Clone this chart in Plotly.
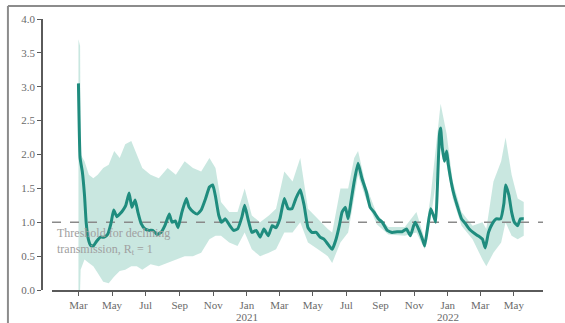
import plotly.graph_objects as go

# Estimated effective reproduction number (central estimate)
rt_dates = [
    "2020-03-01", "2020-03-04", "2020-03-08", "2020-03-12", "2020-03-15", "2020-03-19",
    "2020-03-23", "2020-03-28", "2020-04-03", "2020-04-10", "2020-04-17", "2020-04-23",
    "2020-04-29", "2020-05-04", "2020-05-10", "2020-05-15", "2020-05-21", "2020-05-26",
    "2020-06-01", "2020-06-06", "2020-06-12", "2020-06-17", "2020-06-23", "2020-06-30",
    "2020-07-07", "2020-07-14", "2020-07-22", "2020-07-29", "2020-08-05", "2020-08-13",
    "2020-08-18", "2020-08-24", "2020-08-29", "2020-09-05", "2020-09-13", "2020-09-18",
    "2020-09-26", "2020-10-03", "2020-10-10", "2020-10-18", "2020-10-25", "2020-10-31",
    "2020-11-05", "2020-11-11", "2020-11-16", "2020-11-23", "2020-12-01", "2020-12-08",
    "2020-12-15", "2020-12-23", "2020-12-28", "2021-01-03", "2021-01-10", "2021-01-18",
    "2021-01-25", "2021-02-01", "2021-02-09", "2021-02-16", "2021-02-23", "2021-03-02",
    "2021-03-10", "2021-03-17", "2021-03-24", "2021-03-31", "2021-04-08", "2021-04-15",
    "2021-04-22", "2021-04-29", "2021-05-07", "2021-05-14", "2021-05-21", "2021-05-28",
    "2021-06-05", "2021-06-12", "2021-06-18", "2021-06-23", "2021-06-29", "2021-07-04",
    "2021-07-09", "2021-07-15", "2021-07-22", "2021-07-29", "2021-08-06", "2021-08-13",
    "2021-08-20", "2021-08-28", "2021-09-04", "2021-09-13", "2021-09-22", "2021-10-01",
    "2021-10-10", "2021-10-18", "2021-10-25", "2021-10-31", "2021-11-03", "2021-11-10",
    "2021-11-16", "2021-11-20", "2021-11-25", "2021-12-01", "2021-12-06", "2021-12-10",
    "2021-12-13", "2021-12-17", "2021-12-19", "2021-12-22", "2021-12-26", "2021-12-30",
    "2022-01-02", "2022-01-06", "2022-01-11", "2022-01-18", "2022-01-26", "2022-02-02",
    "2022-02-09", "2022-02-16", "2022-02-25", "2022-03-05", "2022-03-10", "2022-03-16",
    "2022-03-23", "2022-03-30", "2022-04-07", "2022-04-13", "2022-04-16", "2022-04-22",
    "2022-04-27", "2022-05-02", "2022-05-08", "2022-05-13", "2022-05-19",
]
rt_values = [
    3.05, 1.95, 1.75, 1.40, 1.00, 0.75,
    0.66, 0.65, 0.72, 0.78, 0.78, 0.82,
    0.98, 1.18, 1.08, 1.12, 1.18, 1.25,
    1.43, 1.22, 1.33, 1.15, 0.98, 0.90,
    0.88, 0.88, 0.82, 0.85, 0.95, 1.12,
    1.00, 1.02, 0.92, 1.15, 1.35, 1.22,
    1.15, 1.12, 1.18, 1.35, 1.52, 1.55,
    1.38, 1.10, 1.00, 1.05, 0.95, 0.88,
    0.90, 1.08, 1.25, 1.05, 0.85, 0.88,
    0.78, 0.90, 0.80, 0.95, 0.92, 1.05,
    1.35, 1.20, 1.20, 1.35, 1.48, 1.25,
    0.92, 0.85, 0.85, 0.78, 0.75, 0.68,
    0.60, 0.75, 0.95, 1.15, 1.22, 1.05,
    1.30, 1.60, 1.87, 1.65, 1.45, 1.22,
    1.15, 1.05, 1.00, 0.88, 0.85, 0.86,
    0.86, 0.90, 0.80, 0.95, 1.00, 0.88,
    0.75, 0.65, 0.90, 1.20, 1.10, 1.00,
    1.50, 2.30, 2.39, 2.10, 1.90, 2.05,
    1.85, 1.65, 1.45, 1.25, 1.05, 0.98,
    0.90, 0.85, 0.80, 0.75, 0.62, 0.85,
    0.98, 1.05, 1.05, 1.28, 1.55, 1.40,
    1.15, 1.00, 0.95, 1.05, 1.05,
]

# Credible interval around the estimate
band_dates = [
    "2020-03-01", "2020-03-04", "2020-03-05", "2020-03-12", "2020-03-20", "2020-03-28",
    "2020-04-05", "2020-04-15", "2020-04-25", "2020-05-05", "2020-05-15", "2020-05-25",
    "2020-06-05", "2020-06-15", "2020-06-25", "2020-07-10", "2020-07-25", "2020-08-10",
    "2020-08-25", "2020-09-10", "2020-09-25", "2020-10-10", "2020-10-25", "2020-11-05",
    "2020-11-15", "2020-11-30", "2020-12-15", "2020-12-28", "2021-01-10", "2021-01-25",
    "2021-02-10", "2021-02-23", "2021-03-10", "2021-03-25", "2021-04-08", "2021-04-22",
    "2021-05-10", "2021-05-28", "2021-06-05", "2021-06-20", "2021-07-04", "2021-07-15",
    "2021-07-22", "2021-08-05", "2021-08-25", "2021-09-15", "2021-10-15", "2021-11-05",
    "2021-11-20", "2021-12-01", "2021-12-19", "2021-12-30", "2022-01-10", "2022-01-26",
    "2022-02-15", "2022-03-05", "2022-03-12", "2022-03-25", "2022-04-08", "2022-04-16",
    "2022-04-27", "2022-05-08", "2022-05-19",
]
band_lo = [
    0.00, 0.00, 0.30, 0.45, 0.40, 0.35,
    0.25, 0.12, 0.10, 0.20, 0.28, 0.30,
    0.35, 0.35, 0.30, 0.38, 0.35, 0.40,
    0.45, 0.50, 0.50, 0.55, 0.75, 0.80,
    0.80, 0.70, 0.65, 0.85, 0.60, 0.50,
    0.55, 0.60, 0.85, 0.85, 1.00, 0.70,
    0.60, 0.50, 0.40, 0.70, 0.85, 1.35,
    1.70, 1.35, 0.97, 0.82, 0.80, 0.85,
    0.60, 1.05, 2.10, 1.85, 1.35, 0.95,
    0.75, 0.45, 0.35, 0.55, 0.70, 1.00,
    0.80, 0.75, 0.80,
]
band_hi = [
    3.70, 3.60, 2.00, 1.90, 1.70, 1.65,
    1.70, 1.80, 1.85, 2.05, 1.95, 2.15,
    2.20, 2.00, 1.80, 1.70, 1.65, 1.80,
    1.70, 1.90, 1.80, 1.75, 1.95, 1.80,
    1.30, 1.15, 1.15, 1.50, 1.10, 1.00,
    1.10, 1.20, 1.75, 1.60, 1.95, 1.20,
    1.05, 0.90, 0.85, 1.50, 1.50, 1.95,
    2.05, 1.55, 1.12, 0.93, 0.93, 1.15,
    0.75, 1.40, 2.75, 2.30, 1.60, 1.15,
    0.95, 1.00, 0.90, 1.60, 1.90, 2.25,
    1.70, 1.35, 1.30,
]

# Axis ticks: every second month, with the year written under January
tick_dates = [
    "2020-03-01", "2020-05-01", "2020-07-01", "2020-09-01", "2020-11-01",
    "2021-01-01", "2021-03-01", "2021-05-01", "2021-07-01", "2021-09-01",
    "2021-11-01", "2022-01-01", "2022-03-01", "2022-05-01",
]
tick_labels = [
    "Mar", "May", "Jul", "Sep", "Nov",
    "Jan", "Mar", "May", "Jul", "Sep",
    "Nov", "Jan", "Mar", "May",
]
year_dates = ["2021-01-01", "2022-01-01"]
year_labels = ["2021", "2022"]
y_ticks = [0.0, 0.5, 1.0, 1.5, 2.0, 2.5, 3.0, 3.5, 4.0]
threshold = 1.0
x_span = ["2020-01-13", "2022-06-23"]

TEAL = "#1f8c7e"
BAND = "rgba(120,195,178,0.40)"
AXIS = "#5a5a5a"
TEXT = "#6a6a6a"
SERIF = "Liberation Serif, DejaVu Serif, serif"

fig = go.Figure()

# Label sits underneath the data layers
fig.add_annotation(
    xref="paper", yref="y", x=0.025, y=0.98, xanchor="left", yanchor="top",
    text="Threshold for declining<br>transmission, R<sub>t</sub> = 1",
    showarrow=False, align="left",
    font=dict(family=SERIF, size=12, color="#a0a0a0"),
)

fig.add_trace(go.Scatter(
    x=band_dates, y=band_hi, mode="lines", line=dict(width=0),
    hoverinfo="skip", showlegend=False,
))
fig.add_trace(go.Scatter(
    x=band_dates, y=band_lo, mode="lines", line=dict(width=0),
    fill="tonexty", fillcolor=BAND, hoverinfo="skip", showlegend=False,
))

# Threshold line at R_t = 1
fig.add_trace(go.Scatter(
    x=x_span, y=[threshold, threshold], mode="lines",
    line=dict(color="#8a8a8a", width=1.6, dash="dash"),
    hoverinfo="skip", showlegend=False,
))

fig.add_trace(go.Scatter(
    x=rt_dates, y=rt_values, mode="lines",
    line=dict(color=TEAL, width=3, shape="spline", smoothing=0.4),
    showlegend=False,
))

# Year labels beneath the January ticks
for d, lab in zip(year_dates, year_labels):
    fig.add_annotation(
        xref="x", yref="paper", x=d, y=-0.1, yanchor="middle",
        text=lab, showarrow=False, borderpad=0,
        font=dict(family=SERIF, size=11, color=TEXT),
    )

# Outer frame (top and left edges)
fig.add_shape(type="line", xref="paper", yref="paper",
              x0=-0.068, x1=1.1, y0=1.048, y1=1.048,
              line=dict(color="#8c8c8c", width=2))
fig.add_shape(type="line", xref="paper", yref="paper",
              x0=-0.068, x1=-0.068, y0=1.048, y1=-0.13,
              line=dict(color="#8c8c8c", width=2))

fig.update_layout(
    width=565, height=323,
    margin=dict(l=42, r=22, t=19, b=33, autoexpand=False),
    paper_bgcolor="white", plot_bgcolor="white",
    font=dict(family=SERIF, size=11, color=TEXT),
    xaxis=dict(
        domain=[0.02, 1.0],
        range=x_span,
        automargin=False,
        tickmode="array", tickvals=tick_dates, ticktext=tick_labels,
        showline=True, linecolor=AXIS, linewidth=1.5,
        ticks="outside", ticklen=4, tickcolor=AXIS, tickwidth=1.2,
        showgrid=False, zeroline=False,
        tickfont=dict(family=SERIF, size=11, color=TEXT),
    ),
    yaxis=dict(
        anchor="free", position=0.0,
        range=[0, 4.0],
        automargin=False,
        tickmode="array", tickvals=y_ticks,
        tickformat=".1f",
        showline=True, linecolor=AXIS, linewidth=1.5,
        ticks="outside", ticklen=4, tickcolor=AXIS, tickwidth=1.2,
        showgrid=False, zeroline=False,
        tickfont=dict(family=SERIF, size=11, color=TEXT),
    ),
)

fig.write_html("out.html")
